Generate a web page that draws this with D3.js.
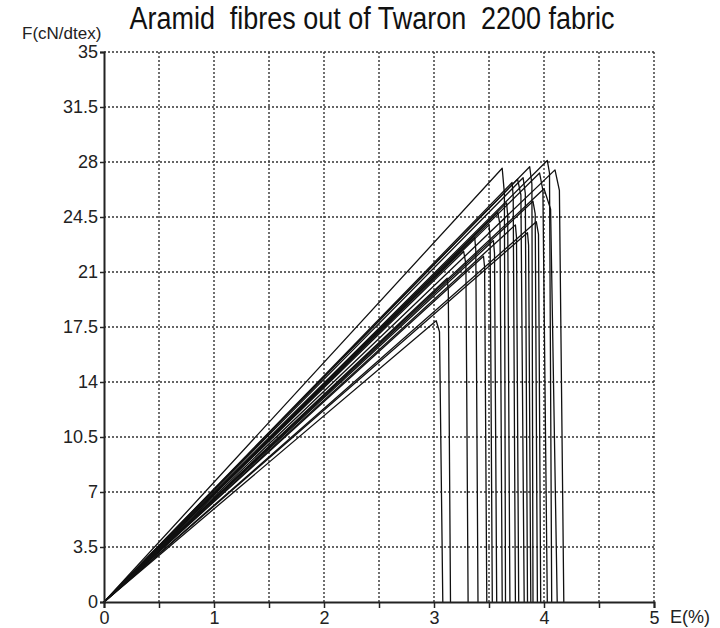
<!DOCTYPE html>
<html>
<head>
<meta charset="utf-8">
<script src="https://cdn.jsdelivr.net/npm/d3@7"></script>
<style>
body { margin: 0; background: #fff; }
</style>
</head>
<body>
<div id="chart"></div>
<script>
// axis ticks
var xTicks = [0, 1, 2, 3, 4, 5];
var xMinorTicks = [0, 0.5, 1, 1.5, 2, 2.5, 3, 3.5, 4, 4.5, 5];
var yTicks = [0, 3.5, 7, 10.5, 14, 17.5, 21, 24.5, 28, 31.5, 35];

// each specimen: start, peak, shoulder after peak, break point (E %, F cN/dtex)
var curves = [
	[[0, 0], [3.02, 17.9], [3.05, 17.2], [3.08, 0]],
	[[0, 0], [3.12, 20.6], [3.13, 19.8], [3.15, 0]],
	[[0, 0], [3.27, 22.3], [3.29, 21.5], [3.31, 0]],
	[[0, 0], [3.37, 23.2], [3.38, 22.4], [3.40, 0]],
	[[0, 0], [3.45, 22.0], [3.46, 21.3], [3.48, 0]],
	[[0, 0], [3.50, 24.0], [3.51, 23.2], [3.53, 0]],
	[[0, 0], [3.54, 23.0], [3.55, 22.2], [3.57, 0]],
	[[0, 0], [3.62, 27.6], [3.64, 26.0], [3.65, 0]],
	[[0, 0], [3.58, 24.8], [3.60, 24.0], [3.62, 0]],
	[[0, 0], [3.66, 25.4], [3.67, 24.6], [3.69, 0]],
	[[0, 0], [3.71, 26.7], [3.72, 25.8], [3.74, 0]],
	[[0, 0], [3.74, 24.0], [3.75, 23.2], [3.77, 0]],
	[[0, 0], [3.76, 26.9], [3.79, 25.9], [3.82, 0]],
	[[0, 0], [3.81, 27.0], [3.83, 26.0], [3.85, 0]],
	[[0, 0], [3.85, 23.5], [3.86, 22.7], [3.88, 0]],
	[[0, 0], [3.87, 27.7], [3.89, 26.6], [3.90, 0]],
	[[0, 0], [3.90, 25.5], [3.92, 24.7], [3.94, 0]],
	[[0, 0], [3.93, 24.2], [3.95, 23.4], [3.97, 0]],
	[[0, 0], [3.96, 27.3], [3.99, 26.2], [4.03, 0]],
	[[0, 0], [4.03, 28.1], [4.05, 27.3], [4.07, 0]],
	[[0, 0], [4.00, 26.3], [4.06, 25.0], [4.12, 0]],
	[[0, 0], [4.10, 27.5], [4.14, 26.2], [4.18, 0]]
];

var width = 720;
var height = 628;
var marginLeft = 104, marginTop = 52, plotW = 550, plotH = 550;

var svg = d3.select("#chart").append("svg")
	.attr("width", width)
	.attr("height", height)
	.style("font-family", "'Liberation Sans', Arial, sans-serif");

var x = d3.scaleLinear().domain([0, 5]).range([marginLeft, marginLeft + plotW]);
var y = d3.scaleLinear().domain([0, 35]).range([marginTop + plotH, marginTop]);

// dotted grid
svg.append("g").selectAll("line")
	.data(xMinorTicks.filter(function(d){ return d > 0; }))
	.enter().append("line")
	.attr("x1", function(d){ return x(d); })
	.attr("x2", function(d){ return x(d); })
	.attr("y1", y(0))
	.attr("y2", y(35))
	.attr("stroke", "#333")
	.attr("stroke-width", 1.4)
	.attr("stroke-dasharray", "2,2");

svg.append("g").selectAll("line")
	.data(yTicks.filter(function(d){ return d > 0; }))
	.enter().append("line")
	.attr("x1", x(0))
	.attr("x2", x(5))
	.attr("y1", function(d){ return y(d); })
	.attr("y2", function(d){ return y(d); })
	.attr("stroke", "#333")
	.attr("stroke-width", 1.4)
	.attr("stroke-dasharray", "2,2");

// curves
var line = d3.line()
	.x(function(d){ return x(d[0]); })
	.y(function(d){ return y(d[1]); });

svg.append("g").selectAll("path")
	.data(curves)
	.enter().append("path")
	.attr("d", line)
	.attr("fill", "none")
	.attr("stroke", "#111")
	.attr("stroke-width", 1.3)
	.attr("stroke-linejoin", "round");

// axes
var xAxis = svg.append("g")
	.attr("transform", "translate(0," + y(0) + ")")
	.call(d3.axisBottom(x).tickValues(xMinorTicks).tickSize(6).tickPadding(3)
		.tickFormat(function(d){ return xTicks.indexOf(d) >= 0 ? String(d) : ""; }));
var yAxis = svg.append("g")
	.attr("transform", "translate(" + x(0) + ",0)")
	.call(d3.axisLeft(y).tickValues(yTicks).tickSize(4).tickPadding(2)
		.tickFormat(function(d){ return String(d); }));

[xAxis, yAxis].forEach(function(a){
	a.select(".domain").attr("stroke", "#222").attr("stroke-width", 2);
	a.selectAll(".tick line").attr("stroke", "#222").attr("stroke-width", 1.5);
	a.selectAll("text")
		.attr("font-size", "18px")
		.attr("font-family", "'Liberation Sans', Arial, sans-serif")
		.attr("fill", "#222");
});

// titles
svg.append("text")
	.attr("x", 372)
	.attr("y", 29)
	.attr("text-anchor", "middle")
	.attr("font-size", "31px")
	.attr("fill", "#111")
	.attr("textLength", 485)
	.attr("lengthAdjust", "spacingAndGlyphs")
	.style("white-space", "pre")
	.text("Aramid  fibres out of Twaron  2200 fabric");

svg.append("text")
	.attr("x", 22)
	.attr("y", 39)
	.attr("font-size", "17px")
	.attr("fill", "#222")
	.text("F(cN/dtex)");

svg.append("text")
	.attr("x", 670)
	.attr("y", 623)
	.attr("font-size", "18px")
	.attr("fill", "#222")
	.text("E(%)");
</script>
</body>
</html>
